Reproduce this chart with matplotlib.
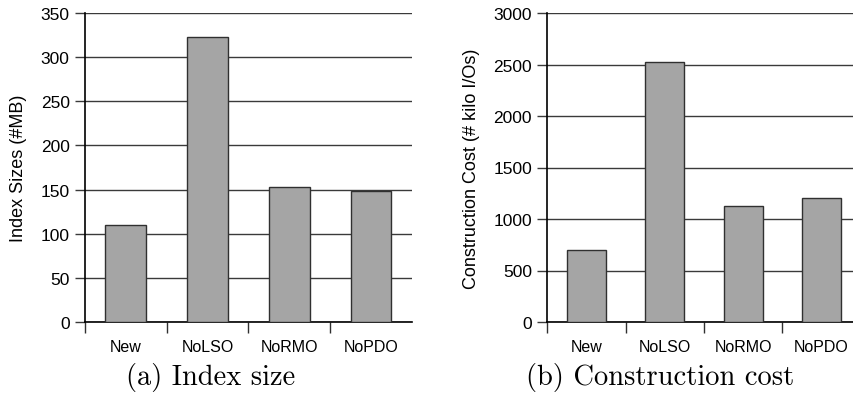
import matplotlib
matplotlib.use("Agg")
import matplotlib.pyplot as plt
from matplotlib.ticker import FixedLocator, NullFormatter

categories = ["New", "NoLSO", "NoRMO", "NoPDO"]
index_sizes = [110, 323, 153, 148]
construction_cost = [695, 2527, 1130, 1205]
yticks_a = [0, 50, 100, 150, 200, 250, 300, 350]
yticks_b = [0, 500, 1000, 1500, 2000, 2500, 3000]

plt.rcParams['font.family'] = ['Liberation Sans', 'DejaVu Sans']

W, H = 854, 406
fig = plt.figure(figsize=(W / 100, H / 100), dpi=100)

def px_axes(x0, x1, y0, y1):
    return fig.add_axes([x0 / W, 1 - y1 / H, (x1 - x0) / W, (y1 - y0) / H])

ax1 = px_axes(85, 411.8, 14, 323)
ax2 = px_axes(547.3, 860.6, 14, 323)

grid_col = '#3a3a3a'

def style(ax, values, yticks, ylabel, labelx):
    n = len(categories)
    centers = [i + 0.5 for i in range(n)]
    ax.bar(centers, values, width=0.5, color='#a5a5a5', edgecolor='#303030',
           linewidth=1.0, zorder=3)
    ax.set_xlim(0, n)
    ax.set_ylim(yticks[0], yticks[-1])
    ax.set_yticks(yticks)
    ax.set_yticklabels([str(v) for v in yticks], fontsize=12.5)
    ax.yaxis.grid(True, color=grid_col, linewidth=1.0, zorder=0)
    ax.set_axisbelow(True)
    ax.xaxis.set_major_locator(FixedLocator(list(range(n))))
    ax.xaxis.set_major_formatter(NullFormatter())
    ax.xaxis.set_minor_locator(FixedLocator(centers))
    ax.set_xticklabels(categories, minor=True, fontsize=11.5)
    ax.tick_params(axis='x', which='major', direction='out', length=8,
                   width=1, color='#303030')
    ax.tick_params(axis='x', which='minor', length=0, pad=12)
    ax.tick_params(axis='y', direction='out', length=7, width=1,
                   color=grid_col, pad=4)
    for s in ('top', 'right'):
        ax.spines[s].set_visible(False)
    for s in ('left', 'bottom'):
        ax.spines[s].set_color('black')
        ax.spines[s].set_linewidth(1.2)
    ax.set_ylabel(ylabel, fontsize=13)
    ax.yaxis.set_label_coords(labelx, 0.5)

style(ax1, index_sizes, yticks_a, 'Index Sizes (#MB)', -0.1775)
style(ax2, construction_cost, yticks_b, 'Construction Cost (# kilo I/Os)', -0.215)

fig.text(211 / W, 1 - 378 / H, '(a) Index size', family='cmr10',
         fontsize=20.5, ha='center', va='center')
fig.text(660 / W, 1 - 378 / H, '(b) Construction cost', family='cmr10',
         fontsize=20.5, ha='center', va='center')

fig.savefig('out.png', dpi=100)
